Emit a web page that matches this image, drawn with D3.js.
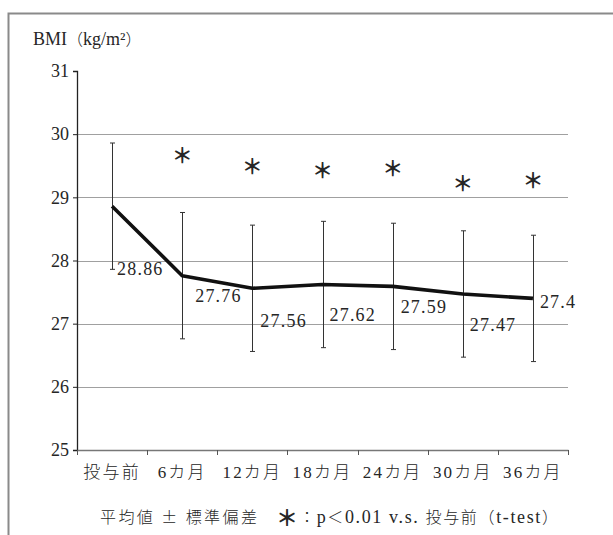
<!DOCTYPE html>
<html>
<head>
<meta charset="utf-8">
<script src="https://cdn.jsdelivr.net/npm/d3@7"></script>
<style>
  html, body { margin: 0; padding: 0; background: #fff; }
  svg { display: block; }
</style>
</head>
<body>
<svg id="chart" width="613" height="535"></svg>
<script>
// Time points after start of treatment
const categories = ["投与前", "6カ月", "12カ月", "18カ月", "24カ月", "30カ月", "36カ月"];
// Mean BMI at each time point
const meanBMI = [28.86, 27.76, 27.56, 27.62, 27.59, 27.47, 27.4];
// Standard deviation at each time point
const sdBMI = [1.00, 1.00, 1.00, 1.00, 1.00, 1.00, 1.00];
// Significance markers (p < 0.01 vs baseline): level at which each asterisk sits, null = none
const starLevel = [null, 29.67, 29.49, 29.44, 29.46, 29.22, 29.27];
// Y axis ticks
const yTicks = [25, 26, 27, 28, 29, 30, 31];
const gridTicks = [26, 27, 28, 29, 30];

// Label placement offsets (px) for the value labels, relative to each point
const labelOffset = [[5, 69], [13, 26], [8, 39], [7, 36], [8, 27], [7, 37], [7, 10]];

const SERIF = "'Liberation Serif', 'Noto Sans CJK JP', serif";
const CJK = "'Noto Sans CJK JP', sans-serif";
const INK = "#262626";

const svg = d3.select("#chart");

// Outer frame (left and top edges)
svg.append("path")
  .attr("d", "M8.5,535 V13.5 H613")
  .attr("fill", "none")
  .attr("stroke", "#8a8a8a")
  .attr("stroke-width", 2);

const x = d3.scaleBand().domain(categories).range([77, 568]).padding(0);
const y = d3.scaleLinear().domain([25, 31]).range([450, 71]);
const cx = c => x(c) + x.bandwidth() / 2;

// Horizontal gridlines
svg.append("g").selectAll("line").data(gridTicks).join("line")
  .attr("x1", 77).attr("x2", 568)
  .attr("y1", d => Math.round(y(d)) + 0.5).attr("y2", d => Math.round(y(d)) + 0.5)
  .attr("stroke", "#a0a0a0").attr("stroke-width", 1.2);

// Y axis
const yAxis = svg.append("g")
  .attr("transform", "translate(77,0)")
  .call(d3.axisLeft(y).tickValues(yTicks).tickSize(4).tickPadding(4).tickFormat(d3.format("d")));
yAxis.select(".domain").attr("stroke", "#222").attr("stroke-width", 1.3);
yAxis.selectAll(".tick line").attr("stroke", "#222");
yAxis.selectAll("text")
  .style("font-family", SERIF)
  .style("font-size", "18px")
  .attr("fill", INK);

// X axis
const xAxis = svg.append("g")
  .attr("transform", "translate(0,450)")
  .call(d3.axisBottom(x).tickSize(0).tickPadding(16));
xAxis.select(".domain").attr("stroke", "#777").attr("stroke-width", 1.3);
xAxis.selectAll("text")
  .style("font-family", SERIF)
  .style("font-size", "17px")
  .style("font-weight", 300)
  .style("letter-spacing", "2.2px")
  .attr("fill", INK);
// Category boundary ticks
svg.append("g").selectAll("line")
  .data(categories.map(c => x(c)).concat([x.range()[1]]))
  .join("line")
  .attr("x1", d => Math.round(d) + 0.5).attr("x2", d => Math.round(d) + 0.5)
  .attr("y1", 450).attr("y2", 455)
  .attr("stroke", "#555").attr("stroke-width", 1);

// Error bars (mean ± SD)
const eb = svg.append("g").attr("stroke", "#333").attr("stroke-width", 1);
categories.forEach((c, i) => {
  const xc = Math.round(cx(c)) + 0.5;
  const top = y(meanBMI[i] + sdBMI[i]);
  const bot = y(meanBMI[i] - sdBMI[i]);
  eb.append("line").attr("x1", xc).attr("x2", xc).attr("y1", top).attr("y2", bot);
  eb.append("line").attr("x1", xc - 2.5).attr("x2", xc + 2.5).attr("y1", top).attr("y2", top);
  eb.append("line").attr("x1", xc - 2.5).attr("x2", xc + 2.5).attr("y1", bot).attr("y2", bot);
});

// Mean line
const line = d3.line().x((d, i) => cx(categories[i])).y(d => y(d));
svg.append("path")
  .datum(meanBMI)
  .attr("d", line)
  .attr("fill", "none")
  .attr("stroke", "#111")
  .attr("stroke-width", 3.6)
  .attr("stroke-linejoin", "round");

// Value labels
svg.append("g").selectAll("text").data(meanBMI).join("text")
  .attr("x", (d, i) => cx(categories[i]) + labelOffset[i][0])
  .attr("y", (d, i) => y(d) + labelOffset[i][1])
  .style("font-family", SERIF)
  .style("font-size", "18px")
  .style("letter-spacing", "1.2px")
  .attr("fill", INK)
  .text(d => d);

// Significance asterisks
svg.append("g").selectAll("text")
  .data(starLevel.map((v, i) => ({ v, c: categories[i] })).filter(d => d.v !== null))
  .join("text")
  .attr("x", d => cx(d.c))
  .attr("y", d => y(d.v) + 8)
  .attr("text-anchor", "middle")
  .style("font-family", CJK)
  .style("font-size", "21px")
  .style("font-weight", 700)
  .attr("fill", INK)
  .text("＊");

// Axis title
const title = svg.append("text")
  .attr("x", 33).attr("y", 45)
  .style("font-family", SERIF)
  .style("font-size", "18px")
  .attr("fill", INK);
title.append("tspan").text("BMI");
title.append("tspan").style("font-family", CJK).style("font-size", "16px").style("font-weight", 300).text("（");
title.append("tspan").text("kg/m²");
title.append("tspan").style("font-family", CJK).style("font-size", "16px").style("font-weight", 300).text("）");

// Footnote
const foot = svg.append("g").attr("fill", INK);
foot.append("text").attr("x", 100).attr("y", 523)
  .style("font-family", CJK).style("font-size", "16px").style("font-weight", 300)
  .attr("textLength", 157).attr("lengthAdjust", "spacing")
  .text("平均値 ± 標準偏差");
foot.append("text").attr("x", 287).attr("y", 526).attr("text-anchor", "middle")
  .style("font-family", CJK).style("font-size", "22px").style("font-weight", 700)
  .text("＊");
const note = foot.append("text").attr("x", 299).attr("y", 523)
  .style("font-family", SERIF).style("font-size", "18px")
  .attr("textLength", 259).attr("lengthAdjust", "spacing");
note.append("tspan").style("font-family", CJK).style("font-size", "16px").style("font-weight", 300).text("：");
note.append("tspan").text("p");
note.append("tspan").style("font-family", CJK).style("font-size", "16px").style("font-weight", 300).text("＜");
note.append("tspan").text("0.01 v.s. ");
note.append("tspan").style("font-family", CJK).style("font-size", "16px").style("font-weight", 300).text("投与前（");
note.append("tspan").text("t-test");
note.append("tspan").style("font-family", CJK).style("font-size", "16px").style("font-weight", 300).text("）");
</script>
</body>
</html>
